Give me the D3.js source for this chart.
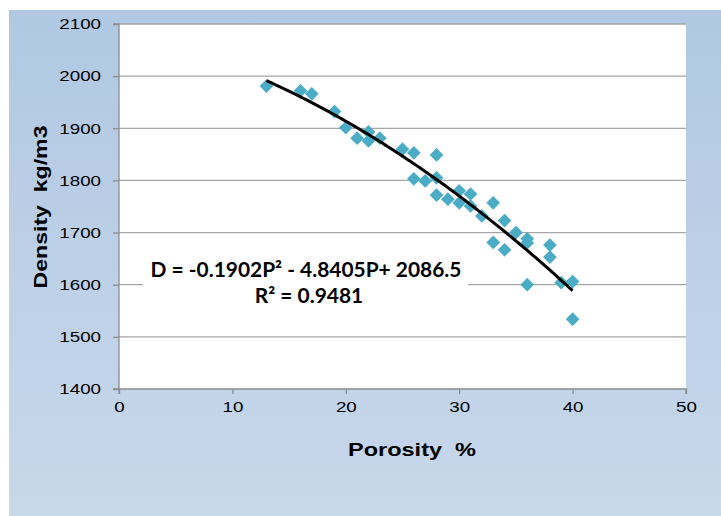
<!DOCTYPE html>
<html><head><meta charset="utf-8">
<script src="https://cdn.jsdelivr.net/npm/d3@7/dist/d3.min.js"></script>
<style>body{margin:0;background:#fff}svg{display:block}text{white-space:pre}</style>
</head><body><svg id="c" width="721" height="516"></svg>
<script>
// ---- data ----
const porosity = [13,16,17,19,20,21,22,22,23,25,26,28,26,27,28,28,29,30,30,31,31,32,33,34,35,36,36,33,34,38,38,36,39,40,40];
const density  = [1981,1972,1966,1932,1901,1881,1893,1876,1881,1860,1853,1849,1803,1799,1805,1772,1764,1780,1757,1774,1751,1732,1757,1723,1700,1688,1680,1681,1667,1676,1653,1600,1604,1606,1534];
const xTicks = [0,10,20,30,40,50];
const yTicks = [1400,1500,1600,1700,1800,1900,2000,2100];
const trendCoef = [-0.1902, -4.8405, 2086.5];   // a*P^2 + b*P + c
const trendRange = [13, 40];
const equationLines = ["D = -0.1902P² - 4.8405P+ 2086.5", "R² = 0.9481"];
const xTitle = "Porosity  %";
const yTitle = "Density  kg/m3";

// ---- layout ----
const svg = d3.select("#c");
const X0 = 119, X1 = 686, Y0 = 24, Y1 = 389;
const x = d3.scaleLinear().domain([0,50]).range([X0,X1]);
const y = d3.scaleLinear().domain([1400,2100]).range([Y1,Y0]);
const STRETCH = 1.25;

const defs = svg.append("defs");
const g = defs.append("linearGradient").attr("id","bg").attr("x1",0).attr("y1",0).attr("x2",0).attr("y2",1);
g.append("stop").attr("offset","0%").attr("stop-color","#b0c8e2");
g.append("stop").attr("offset","100%").attr("stop-color","#c8d8eb");
svg.append("rect").attr("x",9).attr("y",10).attr("width",712).attr("height",506).attr("fill","url(#bg)");
svg.append("rect").attr("x",X0).attr("y",Y0).attr("width",X1-X0).attr("height",Y1-Y0).attr("fill","#fff");

// gridlines
svg.append("g").selectAll("line").data(yTicks.filter(d=>d>1400)).join("line")
  .attr("x1",X0).attr("x2",X1).attr("y1",d=>y(d)).attr("y2",d=>y(d))
  .attr("stroke","#a6a6a6").attr("stroke-width",1.3);

// axes
const yAxis = d3.axisLeft(y).tickValues(yTicks).tickSize(6).tickPadding(12).tickFormat(d3.format("d"));
const xAxis = d3.axisBottom(x).tickValues(xTicks).tickSize(5).tickPadding(7).tickFormat(d3.format("d"));
const ya = svg.append("g").attr("transform",`translate(${X0},0)`).call(yAxis);
const xa = svg.append("g").attr("transform",`translate(0,${Y1})`).call(xAxis);
[ya,xa].forEach(a=>{
  a.select(".domain").attr("stroke","#8c8c8c").attr("stroke-width",1.3);
  a.selectAll(".tick line").attr("stroke","#8c8c8c").attr("stroke-width",1.3);
  a.selectAll("text").attr("fill","#000").attr("font-family","'Liberation Sans',Arial,sans-serif").attr("font-size",15)
    .each(function(){ const w=this.getComputedTextLength(); d3.select(this).attr("textLength",w*STRETCH).attr("lengthAdjust","spacingAndGlyphs"); });
});
ya.select(".domain").attr("d",`M-6,${Y0}H0V${Y1}H-6`);
xa.select(".domain").attr("d",`M${X0},5V0H${X1}V5`);

// points
const diamond = d3.symbol().type(d3.symbolDiamond2).size(120);
svg.append("g").selectAll("path").data(porosity.map((p,i)=>[p,density[i]])).join("path")
  .attr("d",diamond).attr("transform",d=>`translate(${x(d[0])},${y(d[1])})`)
  .attr("fill","#4bacc6");

// trend line
const f = P => trendCoef[0]*P*P + trendCoef[1]*P + trendCoef[2];
const tp = d3.range(trendRange[0], trendRange[1]+0.001, 0.25).map(P=>[P,f(P)]);
svg.append("path").datum(tp).attr("d",d3.line().x(d=>x(d[0])).y(d=>y(d[1])))
  .attr("fill","none").attr("stroke","#000").attr("stroke-width",3);

// equation label
svg.append("rect").attr("x",143).attr("y",259).attr("width",325).attr("height",50).attr("fill","#fff");
const eq = svg.append("g").attr("font-family","Lato,'Open Sans',sans-serif").attr("font-weight","bold").attr("text-anchor","middle");
const t1 = eq.append("text").attr("x",306).attr("y",277).attr("font-size",18).text(equationLines[0]);
const w1 = t1.node().getComputedTextLength();
const fs = 18*311/w1;
t1.attr("font-size",fs);
eq.append("text").attr("x",309).attr("y",303).attr("font-size",fs).text(equationLines[1]);

// titles
svg.append("text").attr("x",412).attr("y",456).attr("text-anchor","middle")
  .attr("font-family","'Liberation Sans',Arial,sans-serif").attr("font-weight","bold").attr("font-size",18)
  .attr("textLength",128).attr("lengthAdjust","spacingAndGlyphs").text(xTitle);
svg.append("text").attr("transform","translate(47,207) rotate(-90)").attr("text-anchor","middle")
  .attr("font-family","'Liberation Sans',Arial,sans-serif").attr("font-weight","bold").attr("font-size",18)
  .attr("textLength",163).attr("lengthAdjust","spacingAndGlyphs").text(yTitle);
</script></body></html>
